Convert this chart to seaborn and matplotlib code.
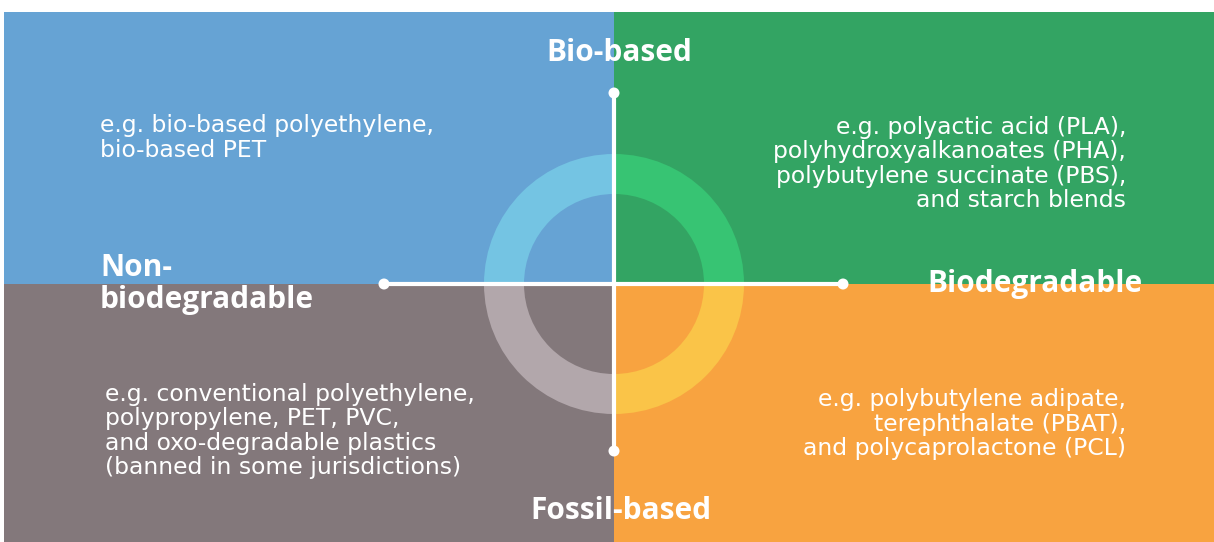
import matplotlib.pyplot as plt
import seaborn as sns
from matplotlib.patches import Rectangle, Wedge, Circle

# quadrant content
quadrants = ["top-left", "top-right", "bottom-left", "bottom-right"]
fill_colors = ["#66A3D4", "#33A463", "#83787B", "#F8A340"]
ring_colors = ["#74C4E3", "#37C473", "#B2A7AB", "#FAC448"]
examples = [
    "e.g. bio-based polyethylene,\nbio-based PET",
    "e.g. polyactic acid (PLA),\npolyhydroxyalkanoates (PHA),\npolybutylene succinate (PBS),\nand starch blends",
    "e.g. conventional polyethylene,\npolypropylene, PET, PVC,\nand oxo-degradable plastics\n(banned in some jurisdictions)",
    "e.g. polybutylene adipate,\nterephthalate (PBAT),\nand polycaprolactone (PCL)",
]
axis_labels = ["Bio-based", "Biodegradable", "Fossil-based", "Non-\nbiodegradable"]

sns.set_theme(style="white")
plt.rcParams["font.family"] = ["Open Sans", "DejaVu Sans"]

W, H = 1214, 542
fig = plt.figure(figsize=(W / 100, H / 100), dpi=100)
ax = fig.add_axes([0, 0, 1, 1])
ax.set_xlim(0, W)
ax.set_ylim(0, H)
ax.axis("off")

cx, cy = 614, H - 284
left, right, top, bottom = 4, W, H - 12, 0

# quadrant rectangles
rects = {
    "top-left": (left, cy, cx - left, top - cy),
    "top-right": (cx, cy, right - cx, top - cy),
    "bottom-left": (left, bottom, cx - left, cy - bottom),
    "bottom-right": (cx, bottom, right - cx, cy - bottom),
}
angles = {"top-left": (90, 180), "top-right": (0, 90),
          "bottom-left": (180, 270), "bottom-right": (270, 360)}
for q, fc, rc in zip(quadrants, fill_colors, ring_colors):
    x0, y0, w, h = rects[q]
    ax.add_patch(Rectangle((x0, y0), w, h, color=fc, lw=0))
    a0, a1 = angles[q]
    ax.add_patch(Wedge((cx, cy), 130, a0, a1, width=40, color=rc, lw=0))

# axes cross
ax.plot([cx, cx], [H - 93, H - 451], color="white", lw=3, solid_capstyle="butt")
ax.plot([384, 843], [cy, cy], color="white", lw=3, solid_capstyle="butt")
for px, py in [(cx, H - 93), (cx, H - 451), (384, cy), (843, cy)]:
    ax.add_patch(Circle((px, py), 5.5, color="white", lw=0))

# example text
body = dict(color="white", fontsize=16.9, linespacing=1.08, va="center",
            family=["DejaVu Sans"])
ax.text(100, H - 138, examples[0], ha="left", **body)
ax.text(1126, H - 164, examples[1], ha="right", **body)
ax.text(105, H - 431, examples[2], ha="left", **body)
ax.text(1126, H - 424, examples[3], ha="right", **body)

# axis labels
lab = dict(color="white", fontsize=21.5, fontweight="bold")
ax.text(619, H - 53, axis_labels[0], ha="center", va="center", **lab)
ax.text(1142, cy, axis_labels[1], ha="right", va="center", **lab)
ax.text(621, H - 511, axis_labels[2], ha="center", va="center", **lab)
ax.text(100, H - 284, axis_labels[3], ha="left", va="center", linespacing=1.12, **lab)

fig.savefig("out.png", dpi=100, facecolor="white")
